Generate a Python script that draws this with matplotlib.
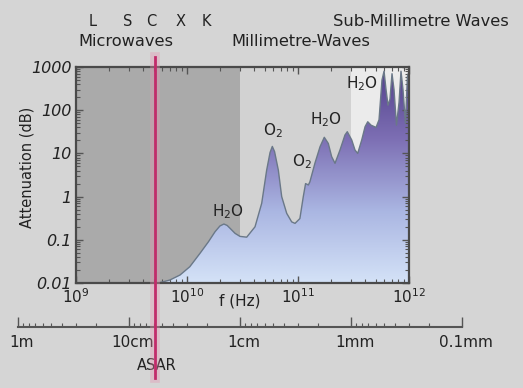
import numpy as np
import matplotlib
matplotlib.use('Agg')
import matplotlib.pyplot as plt
import matplotlib.transforms as mtransforms
from matplotlib.colors import LinearSegmentedColormap
from matplotlib.image import AxesImage
from matplotlib.lines import Line2D
from matplotlib.ticker import LogLocator, NullFormatter, FixedLocator, FixedFormatter

# ---------------- data ----------------
freq_ghz = [5.15, 5.7, 7.0, 8.65, 10.6, 13.1, 15.6, 17.9, 19.8, 21.5,
            23, 24.4, 27.1, 30, 34.5, 41, 47.1, 52.2, 56, 58.7,
            61.5, 66.5, 71.3, 79.1, 87.7, 94, 104, 111.6, 117, 124,
            128, 142, 158, 172.5, 187.5, 201, 215.5, 239, 265, 278,
            305, 326, 345, 375, 402, 425, 455, 505, 537, 571,
            596, 621, 647, 674, 703, 733, 771, 813, 847, 883,
            929, 968, 1000]
atten_db = [0.0100, 0.0102, 0.0117, 0.0153, 0.0238, 0.0487, 0.090, 0.154, 0.209, 0.232,
            0.215, 0.185, 0.141, 0.12, 0.115, 0.20, 0.70, 4.1, 10.5, 14.5,
            11, 4.1, 1.0, 0.41, 0.26, 0.24, 0.31, 1.0, 2.0, 1.86,
            2.2, 5.9, 14.3, 23.6, 17, 8.4, 5.9, 12, 26.7, 31.8,
            20.4, 12, 10, 20.4, 41.5, 54, 45, 40, 60, 500,
            800, 300, 130, 180, 700, 300, 45, 150, 800, 300,
            50, 600, 800]

region_edges_ghz = [1, 30, 300, 1000]
region_colors = ['#aaaaaa', '#d2d2d2', '#ebebeb']

band_names = ['L', 'S', 'C', 'X', 'K']
band_freq_ghz = [1.42, 2.9, 4.8, 8.8, 14.8]

asar_freq_ghz = 5.15

wl_ticks_m = [1, 0.1, 0.01, 0.001, 0.0001]
wl_labels = ['1m', '10cm', '1cm', '1mm', '0.1mm']

y_ticks = [0.01, 0.1, 1, 10, 100, 1000]
y_labels = ['0.01', '0.1', '1', '10', '100', '1000']

# ---------------- figure ----------------
W, H = 523, 388
fig = plt.figure(figsize=(W / 100, H / 100), dpi=100, facecolor='#d5d5d5')
TXT = '#222222'


def fx(px):
    return px / W


def fy(py):
    return 1 - py / H


ax = fig.add_axes([fx(76), fy(283), (409 - 76) / W, (283 - 67) / H])
ax.set_xscale('log')
ax.set_yscale('log')
ax.set_facecolor('#d2d2d2')

for i, c in enumerate(region_colors):
    ax.axvspan(region_edges_ghz[i] * 1e9, region_edges_ghz[i + 1] * 1e9,
               color=c, lw=0, zorder=0)

f = np.array(freq_ghz) * 1e9
A = np.array(atten_db)

poly = ax.fill_between(f, A, 0.01, facecolor='none', edgecolor='none', zorder=1)
cmap = LinearSegmentedColormap.from_list(
    'att', ['#d4e2f7', '#aab6e2', '#7d6fb4', '#52408a'])
grad = np.linspace(0, 1, 256).reshape(-1, 1)
im = AxesImage(ax, cmap=cmap, origin='lower', extent=(0, 1, 0, 1),
               transform=ax.transAxes, interpolation='bilinear')
im.set_data(grad)
im.set_zorder(1)
ax.add_image(im)
im.set_clip_path(poly.get_paths()[0], transform=ax.transData)

ax.plot(f, A, color='#6a7888', lw=1.0, zorder=3)

ax.set_xlim(1e9, 1e12)
ax.set_ylim(0.01, 1000)

for s in ax.spines.values():
    s.set_color('#4a4a4a')
    s.set_linewidth(1.6)
    s.set_zorder(5)

ax.xaxis.set_major_locator(FixedLocator([1e9, 1e10, 1e11, 1e12]))
ax.xaxis.set_minor_locator(LogLocator(base=10, subs=np.arange(2, 10)))
ax.xaxis.set_minor_formatter(NullFormatter())
ax.yaxis.set_major_locator(FixedLocator(y_ticks))
ax.yaxis.set_major_formatter(FixedFormatter(y_labels))
ax.yaxis.set_minor_locator(LogLocator(base=10, subs=np.arange(2, 10)))
ax.yaxis.set_minor_formatter(NullFormatter())
ax.tick_params(which='both', direction='in', top=True, right=True,
               color='#555555', labelcolor=TXT)
ax.tick_params(which='major', length=5, width=1)
ax.tick_params(which='minor', length=3, width=0.8)
ax.tick_params(axis='x', pad=3, labelsize=11)
ax.tick_params(axis='y', pad=3, labelsize=11.5)
for lab in ax.get_yticklabels():
    lab.set_fontstyle('italic')

fig.text(fx(240), fy(301), 'f (Hz)', ha='center', va='center',
         fontsize=11, color=TXT)
fig.text(fx(27), fy(167), 'Attenuation (dB)', rotation=90, ha='center',
         va='center', fontsize=10.5, color=TXT)

# peak annotations
for (px_, py_, s) in [(228, 212, 'H$_2$O'), (273, 131, 'O$_2$'),
                      (302, 162, 'O$_2$'), (326, 120, 'H$_2$O'),
                      (362, 84, 'H$_2$O')]:
    fig.text(fx(px_), fy(py_), s, ha='center', va='center',
             fontsize=11, color=TXT, zorder=10)

# band labels & region titles
blend = mtransforms.blended_transform_factory(ax.transData, fig.transFigure)
for name, bf in zip(band_names, band_freq_ghz):
    fig.text(bf * 1e9, fy(22), name, transform=blend, ha='center',
             va='center', fontsize=10.5, color=TXT)
fig.text(fx(78), fy(42), 'Microwaves', ha='left', va='center',
         fontsize=11.7, color=TXT)
fig.text(fx(231), fy(42), 'Millimetre-Waves', ha='left', va='center',
         fontsize=11.7, color=TXT)
fig.text(fx(509), fy(22), 'Sub-Millimetre Waves', ha='right', va='center',
         fontsize=11.7, color=TXT)

# wavelength scale
ax2 = fig.add_axes([fx(18), fy(327), (462 - 18) / W, 1 / H])
ax2.set_facecolor('none')
ax2.set_xscale('log')
ax2.set_xlim(1, 1e-4)
ax2.set_yticks([])
for k in ['left', 'right', 'top']:
    ax2.spines[k].set_visible(False)
ax2.spines['bottom'].set_color('#555555')
ax2.spines['bottom'].set_linewidth(1.5)
ax2.xaxis.set_major_locator(FixedLocator(wl_ticks_m))
ax2.xaxis.set_major_formatter(FixedFormatter(wl_labels))
ax2.xaxis.set_minor_locator(LogLocator(base=10, subs=np.arange(2, 10)))
ax2.xaxis.set_minor_formatter(NullFormatter())
ax2.tick_params(which='both', direction='in', color='#555555',
                labelcolor=TXT, labelsize=11, pad=6)
ax2.tick_params(which='major', length=7, width=1)
ax2.tick_params(which='minor', length=3, width=0.8)
shift = mtransforms.ScaledTranslation(4 / 100, 0, fig.dpi_scale_trans)
for lab in ax2.get_xticklabels():
    lab.set_transform(lab.get_transform() + shift)

fig.text(fx(157), fy(366), 'ASAR', ha='center', va='center',
         fontsize=10.5, color=TXT)

# ASAR red line
x_asar = asar_freq_ghz * 1e9
fig.add_artist(Line2D([x_asar, x_asar], [fy(378), fy(57)], transform=blend,
                      color='#e890b0', lw=7, alpha=0.35, zorder=20))
fig.add_artist(Line2D([x_asar, x_asar], [fy(378), fy(57)], transform=blend,
                      color='#c22a6a', lw=2, zorder=21))

fig.savefig('out.png', dpi=100, facecolor=fig.get_facecolor())
